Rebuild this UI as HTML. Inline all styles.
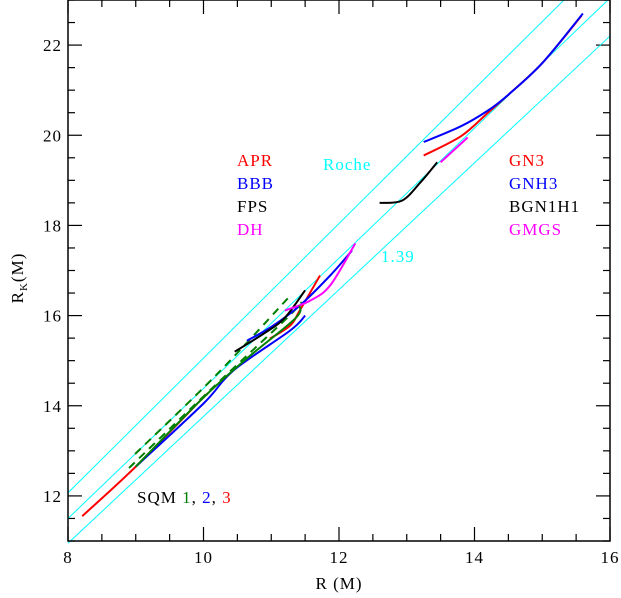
<!DOCTYPE html>
<html><head><meta charset="utf-8"><style>
body{margin:0;background:#fff}
svg{display:block}
text{font-family:"Liberation Serif",serif;letter-spacing:1px}
</style></head><body>
<svg id="chart" width="621" height="598" viewBox="0 0 621 598" xmlns="http://www.w3.org/2000/svg">
<g id="ticks"></g>
<g id="series"></g>
<rect x="68" y="0" width="542" height="541" fill="none" stroke="#000" stroke-width="1.5"/>
<g font-size="17">
<text x="237" y="166" fill="#ff0000">APR</text>
<text x="237" y="189" fill="#0000ff">BBB</text>
<text x="237" y="212" fill="#000">FPS</text>
<text x="237" y="235" fill="#ff00ff">DH</text>
<text x="323" y="170" fill="#00ffff">Roche</text>
<text x="381" y="262" fill="#00ffff">1.39</text>
<text x="509" y="166" fill="#ff0000">GN3</text>
<text x="509" y="189" fill="#0000ff">GNH3</text>
<text x="509" y="212" fill="#000">BGN1H1</text>
<text x="509" y="235" fill="#ff00ff">GMGS</text>
<text x="137" y="503"><tspan fill="#000">SQM </tspan><tspan fill="#008000">1</tspan><tspan fill="#000">, </tspan><tspan fill="#0000ff">2</tspan><tspan fill="#000">, </tspan><tspan fill="#ff0000">3</tspan></text>
<text x="339" y="589" text-anchor="middle">R (M)</text>
<text transform="translate(23,278) rotate(-90)" text-anchor="middle">R<tspan font-size="11" dy="4">K</tspan><tspan dy="-4">(M)</tspan></text>
</g>
</svg>
<script>
const xTicks=[8,10,12,14,16];
const yTicks=[12,14,16,18,20,22];
const rocheLines=[[[8,12.07],[15.32,23]],[[8,11.5],[15.97,23]],[[8,10.95],[16,22.2]]];
const sqm3=[[8.21,11.55],[9.0,12.65],[9.95,14.11],[10.05,14.25]];
const sqm2=[[9.0,12.65],[10.0,14.05],[10.44,14.78],[11.28,15.67],[11.5,16.0]];
const sqm1=[[9.0,12.65],[9.95,14.11],[10.6,15.0],[11.35,15.93],[11.42,16.22]];
const sqm1dashA=[[8.99,12.93],[10.2,14.7],[11.28,16.44]];
const sqm1dashB=[[8.9,12.62],[10.1,14.35],[11.2,15.9],[11.45,16.3]];
const apr=[[10.98,15.49],[11.28,15.78],[11.42,16.11],[11.72,16.89]];
const bbb=[[10.64,15.44],[11.0,15.75],[11.42,16.22],[11.87,16.89],[12.19,17.44]];
const fps=[[10.46,15.2],[10.91,15.62],[11.2,15.95],[11.5,16.56]];
const dh=[[11.2,16.11],[11.57,16.33],[11.87,16.67],[12.24,17.6]];
const gnh3=[[13.25,19.85],[13.8,20.2],[14.2,20.55],[14.5,20.9],[15.0,21.6],[15.6,22.7]];
const gn3=[[13.25,19.55],[13.8,19.98],[14.2,20.5],[14.5,20.9],[15.0,21.6],[15.58,22.65]];
const gmgs=[[13.5,19.4],[13.9,19.95]];
const bgn1h1=[[12.6,18.5],[12.93,18.55],[13.2,18.95],[13.45,19.4]];
const X0=8,X1=16,Y0=11,Y1=23,PL=68,PR=610,PT=0,PB=541;
function sx(v){return PL+(v-X0)/(X1-X0)*(PR-PL);}
function sy(v){return PB-(v-Y0)/(Y1-Y0)*(PB-PT);}
const NS="http://www.w3.org/2000/svg";
const tg=document.getElementById('ticks'),sg=document.getElementById('series');
function mk(tag,attrs,parent){const e=document.createElementNS(NS,tag);for(const k in attrs)e.setAttribute(k,attrs[k]);parent.appendChild(e);return e;}
for(let v=8;v<=16.001;v+=0.5){const major=Math.abs(v-Math.round(v/2)*2)<1e-6;const L=major?14:7;const x=sx(v);
 const t1=mk('line',{x1:x,x2:x,y1:PB,y2:PB-L,stroke:'#000','stroke-width':1.2},tg);
 
 
 const t2=mk('line',{x1:x,x2:x,y1:PT,y2:PT+L,stroke:'#000','stroke-width':1.2},tg);
 
 }
for(let v=11;v<=23.001;v+=0.5){const major=Math.abs(v-Math.round(v/2)*2)<1e-6;const L=major?14:7;const y=sy(v);
 const t1=mk('line',{x1:PL,x2:PL+L,y1:y,y2:y,stroke:'#000','stroke-width':1.2},tg);
 
 
 const t2=mk('line',{x1:PR,x2:PR-L,y1:y,y2:y,stroke:'#000','stroke-width':1.2},tg);
 
 }
xTicks.forEach(v=>{const t=mk('text',{x:sx(v),y:PB+22,'text-anchor':'middle','font-size':17},tg);t.textContent=v;
 
 });
yTicks.forEach(v=>{const t=mk('text',{x:PL-6,y:sy(v)+6,'text-anchor':'end','font-size':17},tg);t.textContent=v;
 
 });
rocheLines.forEach(l=>{const e=mk('line',{x1:sx(l[0][0]),y1:sy(l[0][1]),x2:sx(l[1][0]),y2:sy(l[1][1]),stroke:'#00ffff','stroke-width':1},sg);
 
 });
function curve(pts,color,name,dash){
 const P=pts.map(p=>[sx(p[0]),sy(p[1])]);
 let d='M'+P[0][0].toFixed(1)+' '+P[0][1].toFixed(1);
 for(let i=0;i<P.length-1;i++){const p0=P[i-1]||P[i],p1=P[i],p2=P[i+1],p3=P[i+2]||P[i+1];
  const c1=[p1[0]+(p2[0]-p0[0])/6,p1[1]+(p2[1]-p0[1])/6],c2=[p2[0]-(p3[0]-p1[0])/6,p2[1]-(p3[1]-p1[1])/6];
  d+=' C'+c1[0].toFixed(1)+' '+c1[1].toFixed(1)+' '+c2[0].toFixed(1)+' '+c2[1].toFixed(1)+' '+p2[0].toFixed(1)+' '+p2[1].toFixed(1);}
 const a={d:d,fill:'none',stroke:color,'stroke-width':2,'stroke-linejoin':'round'};if(dash)a['stroke-dasharray']=dash;
 const e=mk('path',a,sg);
 
 }
curve(sqm3,'#ff0000','sqm3-curve');
curve(sqm2,'#0000ff','sqm2-curve');
curve(sqm1dashA,'#008000','sqm1-dashed-a','8,6');
curve(sqm1dashB,'#008000','sqm1-dashed-b','8,6');
curve(apr,'#ff0000','apr-curve');
curve(bbb,'#0000ff','bbb-curve');
curve(fps,'#000000','fps-curve');
curve(dh,'#ff00ff','dh-curve');
curve(sqm1,'#008000','sqm1-curve');
curve(gn3,'#ff0000','gn3-curve');
curve(gnh3,'#0000ff','gnh3-curve');
curve(gmgs,'#ff00ff','gmgs-curve');
curve(bgn1h1,'#000000','bgn1h1-curve');
</script>
</body></html>
